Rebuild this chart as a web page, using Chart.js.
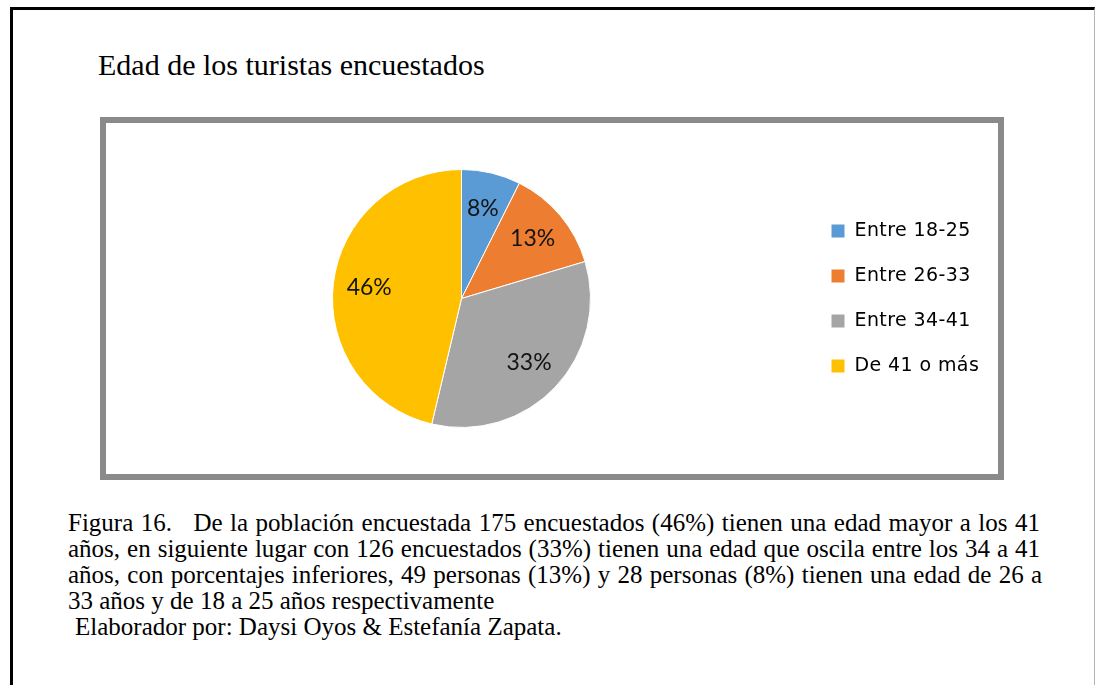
<!DOCTYPE html>
<html>
<head>
<meta charset="utf-8">
<script src="https://cdn.jsdelivr.net/npm/chart.js@4.4.1/dist/chart.umd.min.js"></script>
<style>
html,body{margin:0;padding:0;background:#fff;}
body{width:1095px;height:685px;position:relative;overflow:hidden;}
#outer{position:absolute;left:10px;top:7px;width:1081px;height:700px;border-left:3px solid #000;border-top:3px solid #000;border-right:1px solid #b4b4b4;}
#title{position:absolute;left:98px;top:50px;font:30px/30px "Liberation Serif","Times New Roman",serif;color:#000;white-space:nowrap;}
#frame{position:absolute;left:100px;top:117px;width:892px;height:351px;border:6px solid #8a8a8a;background:#fff;}
#frame canvas{display:block;}
#caption{position:absolute;left:68px;top:510px;font:25px/26px "Liberation Serif","Times New Roman",serif;color:#000;}
#caption .j{width:972px;text-align:justify;text-align-last:justify;white-space:nowrap;}
#caption .l{white-space:nowrap;}
.gap{display:inline-block;width:14px;}
</style>
</head>
<body>
<div id="outer"></div>
<div id="title">Edad de los turistas encuestados</div>
<div id="frame"><canvas id="c" width="892" height="351"></canvas></div>
<div id="caption">
<div class="j">Figura 16.<span class="gap"></span> De la población encuestada 175 encuestados (46%) tienen una edad mayor a los 41</div>
<div class="j">años, en siguiente lugar con 126 encuestados (33%) tienen una edad que oscila entre los 34 a 41</div>
<div class="j" style="width:974px">años, con porcentajes inferiores, 49 personas (13%) y 28 personas (8%) tienen una edad de 26 a</div>
<div class="l">33 años y de 18 a 25 años respectivamente</div>
<div class="l" style="padding-left:7px">Elaborador por: Daysi Oyos &amp; Estefanía Zapata.</div>
</div>
<script>
const categories = ['Entre 18-25', 'Entre 26-33', 'Entre 34-41', 'De 41 o más'];
const respondents = [28, 49, 126, 175];
const percentLabels = ['8%', '13%', '33%', '46%'];
const sliceColors = ['#5B9BD5', '#ED7D31', '#A5A5A5', '#FFC000'];

const FS = 19;
const LEGEND_FONT = FS + 'px "DejaVu Sans"';
const LEGEND_SPACING = '0.4px';
const BOX = 14, PAD = 26;

// measure widest legend text to place the legend
const mctx = document.createElement('canvas').getContext('2d');
mctx.font = LEGEND_FONT;
mctx.letterSpacing = LEGEND_SPACING;
const textW = Math.max(...categories.map(t => mctx.measureText(t).width));
const canvasW = 892;
const legendLeft = 699;
const padRight = Math.max(0, canvasW - legendLeft - (PAD + BOX + FS / 2 + textW + 10));

const spacingPlugin = {
  id: 'spacing',
  beforeLayout(chart) { chart.ctx.letterSpacing = LEGEND_SPACING; },
  beforeDraw(chart) { chart.ctx.letterSpacing = LEGEND_SPACING; }
};

const pctPlugin = {
  id: 'pct',
  afterDatasetsDraw(chart) {
    const ctx = chart.ctx;
    const meta = chart.getDatasetMeta(0);
    ctx.save();
    ctx.letterSpacing = '0px';
    ctx.font = '23px Lato';
    ctx.fillStyle = '#141414';
    ctx.textAlign = 'center';
    ctx.textBaseline = 'middle';
    meta.data.forEach((arc, i) => {
      const p = arc.getProps(['x', 'y', 'startAngle', 'endAngle', 'outerRadius'], true);
      const mid = (p.startAngle + p.endAngle) / 2;
      const r = p.outerRadius * 0.72;
      ctx.fillText(percentLabels[i], p.x + Math.cos(mid) * r, p.y + Math.sin(mid) * r);
    });
    ctx.restore();
  }
};

new Chart(document.getElementById('c'), {
  type: 'pie',
  data: {
    labels: categories,
    datasets: [{
      data: respondents,
      backgroundColor: sliceColors,
      borderColor: '#ffffff',
      borderWidth: 1,
      hoverOffset: 0
    }]
  },
  options: {
    responsive: false,
    animation: false,
    events: [],
    layout: { padding: { left: 12, top: 46, bottom: 46, right: padRight } },
    plugins: {
      tooltip: { enabled: false },
      title: { display: false },
      legend: {
        position: 'right',
        align: 'center',
        labels: {
          boxWidth: BOX,
          boxHeight: BOX,
          padding: PAD,
          color: '#000',
          font: { family: 'DejaVu Sans', size: FS }
        }
      }
    }
  },
  plugins: [spacingPlugin, pctPlugin]
});
</script>
</body>
</html>
